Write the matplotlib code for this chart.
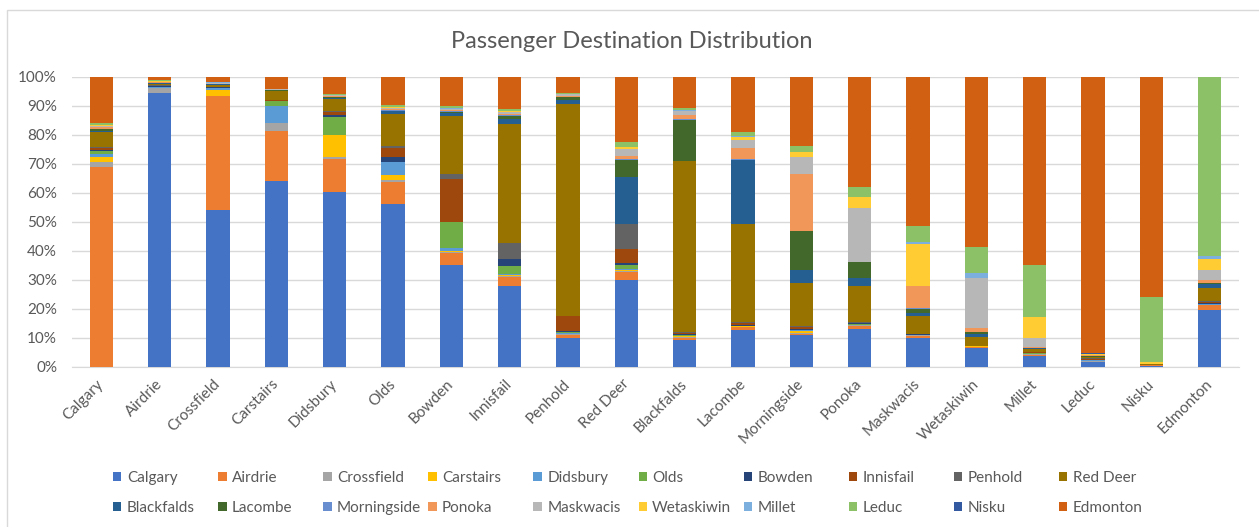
import numpy as np
import matplotlib
matplotlib.use("Agg")
from matplotlib import pyplot as plt
from matplotlib.patches import Rectangle

# destinations (series) -- same list is used for the origins on the x axis
places = ["Calgary", "Airdrie", "Crossfield", "Carstairs", "Didsbury", "Olds",
          "Bowden", "Innisfail", "Penhold", "Red Deer", "Blackfalds", "Lacombe",
          "Morningside", "Ponoka", "Maskwacis", "Wetaskiwin", "Millet", "Leduc",
          "Nisku", "Edmonton"]

colors = ["#4472C4", "#ED7D31", "#A5A5A5", "#FFC000", "#5B9BD5", "#70AD47",
          "#264478", "#9E480E", "#636363", "#997300", "#255E91", "#43682B",
          "#698ED0", "#F1975A", "#B7B7B7", "#FFCD33", "#7CAFDD", "#8CC168",
          "#335AA1", "#D26012"]

# share (%) of passengers from each origin going to each destination
from_calgary =     [0, 69.1, 1.7, 1.5, 1.2, 0.9, 0.5, 0.6, 0.2, 5.2, 0.5, 0.6, 0.1, 0.5, 0.6, 0.2, 0.2, 0.6, 0.05, 15.8]
from_airdrie =     [94.5, 0, 1.7, 0.2, 0.2, 0.2, 0.1, 0.2, 0.1, 0.6, 0.1, 0.2, 0.05, 0.2, 0.1, 0.2, 0.05, 0.2, 0, 1.2]
from_crossfield =  [54.2, 39.2, 0, 2.2, 0.5, 0.2, 0.1, 0.1, 0.1, 0.7, 0.1, 0.1, 0.05, 0.1, 0.3, 0.1, 0.05, 0.15, 0, 1.7]
from_carstairs =   [64.1, 17.2, 2.8, 0, 5.8, 1.7, 0.1, 0.4, 0.1, 2.9, 0.1, 0.2, 0.05, 0.1, 0.15, 0.1, 0.05, 0.15, 0, 4.0]
from_didsbury =    [60.2, 11.4, 0.9, 7.6, 0, 6.2, 0.5, 1.0, 0.3, 4.4, 0.2, 0.3, 0.05, 0.3, 0.3, 0.1, 0.05, 0.4, 0, 5.8]
from_olds =        [56.1, 7.6, 0.8, 1.5, 4.8, 0, 1.5, 3.1, 0.7, 11.0, 1.0, 0.3, 0.1, 0.3, 0.5, 0.2, 0.1, 0.6, 0, 9.8]
from_bowden =      [35.1, 4.0, 0.3, 0.5, 0.9, 9.1, 0, 15.0, 1.5, 20.0, 1.0, 0.6, 0.2, 0.3, 0.3, 0.3, 0.2, 0.6, 0, 10.1]
from_innisfail =   [27.8, 3.0, 0.4, 0.3, 0.5, 2.7, 2.5, 0, 5.4, 41.1, 1.6, 1.2, 0.2, 0.3, 0.8, 0.3, 0.2, 0.5, 0, 11.1]
from_penhold =     [9.9, 1.0, 0.2, 0.2, 0.2, 0.5, 0.2, 5.4, 0, 73.2, 1.4, 0.9, 0.1, 0.1, 0.7, 0.1, 0.1, 0.3, 0, 5.5]
from_reddeer =     [30.0, 2.8, 0.3, 0.3, 0.3, 1.5, 0.5, 4.8, 8.8, 0, 16.1, 6.0, 0.3, 1.2, 2.3, 0.6, 0.2, 1.5, 0.1, 22.5]
from_blackfalds =  [9.1, 0.9, 0.2, 0.2, 0.2, 0.3, 0.2, 0.4, 0.4, 59.3, 0, 14.1, 0.2, 1.4, 1.4, 0.2, 0.3, 0.6, 0, 10.7]
from_lacombe =     [12.6, 1.1, 0.1, 0.1, 0.1, 0.1, 0.1, 0.8, 0.4, 33.7, 22.4, 0, 0.3, 3.6, 2.8, 1.2, 0.2, 1.5, 0, 18.9]
from_morningside = [10.8, 0.6, 0.3, 0.6, 0.2, 0.3, 0.2, 0.6, 0.3, 15.0, 4.6, 13.4, 0, 19.8, 5.7, 1.7, 0.3, 1.8, 0, 24.0]
from_ponoka =      [12.8, 1.2, 0.2, 0.1, 0.1, 0.4, 0.1, 0.2, 0.2, 12.6, 2.8, 5.4, 0.2, 0, 18.6, 3.6, 0.1, 3.4, 0, 38.1]
from_maskwacis =   [9.7, 0.9, 0.1, 0.1, 0.1, 0.1, 0.1, 0.05, 0.05, 6.3, 0.8, 1.7, 0.3, 7.5, 0, 14.4, 0.6, 5.8, 0, 51.3]
from_wetaskiwin =  [6.3, 0.5, 0.1, 0.05, 0.05, 0.05, 0.05, 0.1, 0, 3.1, 0.9, 0.6, 0.1, 1.5, 17.1, 0, 2.0, 8.7, 0, 58.9]
from_millet =      [3.5, 0.6, 0.1, 0.1, 0.1, 0.1, 0.1, 0.4, 0.1, 1.0, 0.2, 0.2, 0.05, 0.3, 3.0, 7.4, 0, 17.9, 0, 64.9]
from_leduc =       [1.4, 0.3, 0.2, 0.1, 0.1, 0.1, 0.1, 0.4, 0.1, 0.6, 0.05, 0.05, 0.05, 0.3, 0.2, 0.3, 0.05, 0, 0.1, 95.5]
from_nisku =       [0.3, 0.1, 0.1, 0, 0, 0, 0, 0, 0, 0.2, 0, 0.1, 0, 0, 0.2, 0.4, 0, 22.7, 0, 75.9]
from_edmonton =    [19.6, 1.6, 0.1, 0.1, 0.1, 0.1, 0.3, 0.4, 0.2, 4.6, 1.4, 0.3, 0.2, 1.0, 3.5, 3.5, 1.0, 62.0, 0, 0]

rows = np.array([from_calgary, from_airdrie, from_crossfield, from_carstairs, from_didsbury,
                 from_olds, from_bowden, from_innisfail, from_penhold, from_reddeer,
                 from_blackfalds, from_lacombe, from_morningside, from_ponoka, from_maskwacis,
                 from_wetaskiwin, from_millet, from_leduc, from_nisku, from_edmonton], dtype=float)
# 100% stacked
shares = rows / rows.sum(axis=1, keepdims=True) * 100

plt.rcParams['font.family'] = ['Lato', 'DejaVu Sans']
txt = '#595959'
W, H = 1259, 527

fig = plt.figure(figsize=(W / 100, H / 100), dpi=100)
ax = fig.add_axes([72.3 / W, 1 - 366.5 / H, (1239 - 72.3) / W, (366.5 - 77) / H])

x = np.arange(len(places))
bottom = np.zeros(len(places))
bars = []
for i, name in enumerate(places):
    b = ax.bar(x, shares[:, i], bottom=bottom, width=0.4, color=colors[i], label=name, zorder=2)
    bars.append(b)
    bottom += shares[:, i]

ax.set_xlim(-0.5, len(places) - 0.5)
ax.set_ylim(0, 100)
ax.set_yticks(np.arange(0, 101, 10))
ax.set_yticklabels(["%d%%" % v for v in range(0, 101, 10)])
ax.set_xticks(x)
ax.set_xticklabels(places, rotation=45, ha='right', va='center', rotation_mode='anchor')
ax.tick_params(axis='both', length=0, labelsize=11, labelcolor=txt)
ax.tick_params(axis='y', pad=11)
ax.tick_params(axis='x', pad=11)
ax.yaxis.grid(True, color='#D9D9D9', lw=1, zorder=0)
ax.set_axisbelow(True)
for s in ['top', 'left', 'right']:
    ax.spines[s].set_visible(False)
ax.spines['bottom'].set_color('#D9D9D9')
ax.spines['bottom'].set_zorder(1)

fig.text(0.502, 1 - 42 / H, "Passenger Destination Distribution", ha='center', va='center',
         fontsize=17, color=txt)

# chart frame
fig.patches.append(Rectangle((7 / W, -0.1), 2, 1.1 - 10 / H, transform=fig.transFigure,
                             fill=False, edgecolor='#D9D9D9', lw=1))

# legend in a fixed grid like excel
for k, name in enumerate(places):
    col, row = k % 10, k // 10
    fig.legend(handles=[bars[k]], labels=[name], loc='center left',
               bbox_to_anchor=((113 + col * 105.1) / W, 1 - (478 + row * 30) / H),
               frameon=False, borderpad=0, borderaxespad=0, handlelength=0.55,
               handleheight=0.55, handletextpad=0.35, fontsize=11, labelcolor=txt)

fig.savefig("out.png", dpi=100)
